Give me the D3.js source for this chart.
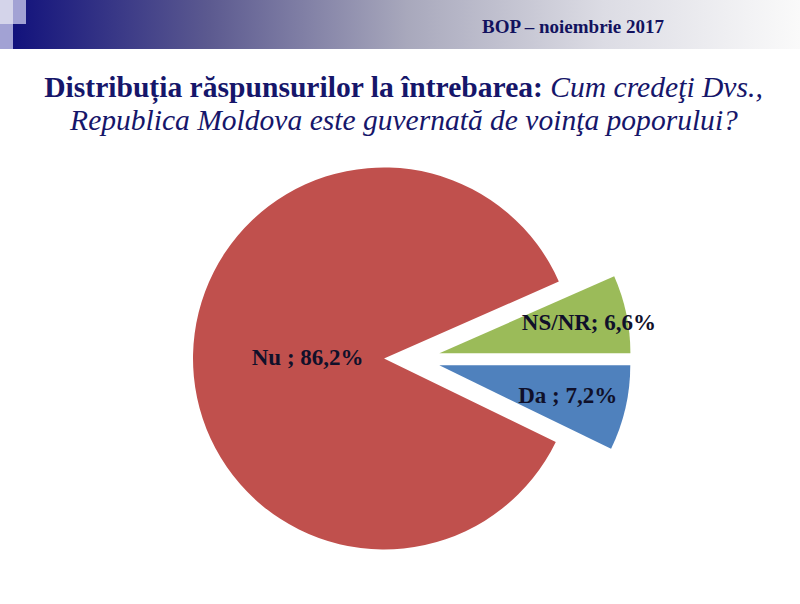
<!DOCTYPE html>
<html>
<head>
<meta charset="utf-8">
<script src="https://cdn.jsdelivr.net/npm/d3@7"></script>
<style>
html,body{margin:0;padding:0;background:#fff;}
svg{display:block;}
</style>
</head>
<body>
<svg id="chart" width="800" height="604"></svg>
<script>
const categories = ["Da", "Nu", "NS/NR"];
const values = [7.2, 86.2, 6.6];
const labels = ["Da ; 7,2%", "Nu ; 86,2%", "NS/NR; 6,6%"];
const colors = ["#4F81BD", "#C0504D", "#9BBB59"];
const labelRadius = [0.69, 0.40, 0.80];

const SERIF = "'Liberation Serif', 'Times New Roman', serif";
const svg = d3.select("#chart");
const W = 800, H = 604;

// header
const defs = svg.append("defs");
const grad = defs.append("linearGradient").attr("id", "hdr").attr("x1", "0").attr("x2", "1").attr("y1", "0").attr("y2", "0");
[["0%", "#12127c"], ["25%", "#5c5a90"], ["50%", "#a8a8bc"], ["75%", "#dcdce4"], ["100%", "#fafafa"]]
  .forEach(([o, c]) => grad.append("stop").attr("offset", o).attr("stop-color", c));
svg.append("rect").attr("x", 13).attr("y", 0).attr("width", W - 13).attr("height", 49).attr("fill", "url(#hdr)");
svg.append("rect").attr("x", 0).attr("y", 0).attr("width", 13).attr("height", 24).attr("fill", "#d4d4ea");
svg.append("rect").attr("x", 13).attr("y", 0).attr("width", 13).attr("height", 24).attr("fill", "#a2a2d4");
svg.append("rect").attr("x", 0).attr("y", 24).attr("width", 13).attr("height", 25).attr("fill", "#a2a2d4");

svg.append("text").attr("x", 573).attr("y", 33).attr("text-anchor", "middle")
  .style("font-family", SERIF).attr("font-weight", "bold")
  .attr("font-size", 19).attr("fill", "#12125e").text("BOP – noiembrie 2017");

// title
function fitText(sel, targetW, cx) {
  const w = sel.node().getComputedTextLength();
  const s = targetW / w;
  sel.attr("transform", `translate(${cx},0) scale(${s},1) translate(${-cx},0)`);
}
const t1 = svg.append("text").attr("x", 403.5).attr("y", 97).attr("text-anchor", "middle")
  .style("font-family", SERIF).attr("font-size", 29).attr("fill", "#16166a");
t1.append("tspan").attr("font-weight", "bold").text("Distribuția răspunsurilor la întrebarea: ");
t1.append("tspan").attr("font-style", "italic").text("Cum credeţi Dvs.,");
fitText(t1, 719, 403.5);
const t2 = svg.append("text").attr("x", 404).attr("y", 130).attr("text-anchor", "middle")
  .style("font-family", SERIF).attr("font-size", 29).attr("fill", "#16166a")
  .attr("font-style", "italic").text("Republica Moldova este guvernată de voinţa poporului?");
fitText(t2, 668, 404);

// pie
const cx = 412, cy = 359, r = 191, explode = 28;
const pie = d3.pie().sort(null).value(d => d).startAngle(Math.PI / 2).endAngle(Math.PI / 2 + 2 * Math.PI);
const arcs = pie(values);
const arc = d3.arc().innerRadius(0).outerRadius(r);
const g = svg.append("g").attr("transform", `translate(${cx},${cy})`);
const slices = g.selectAll("g.slice").data(arcs).enter().append("g").attr("class", "slice")
  .attr("transform", d => {
    const m = (d.startAngle + d.endAngle) / 2;
    return `translate(${explode * Math.sin(m)},${-explode * Math.cos(m)})`;
  });
slices.append("path").attr("d", arc).attr("fill", (d, i) => colors[i]);
slices.append("text")
  .attr("x", (d, i) => { const m = (d.startAngle + d.endAngle) / 2; return r * labelRadius[i] * Math.sin(m); })
  .attr("y", (d, i) => { const m = (d.startAngle + d.endAngle) / 2; return -r * labelRadius[i] * Math.cos(m); })
  .attr("dy", "0.35em").attr("text-anchor", "middle")
  .style("font-family", SERIF).attr("font-weight", "bold")
  .attr("font-size", 23).attr("fill", "#10102a")
  .text((d, i) => labels[i]);
</script>
</body>
</html>
